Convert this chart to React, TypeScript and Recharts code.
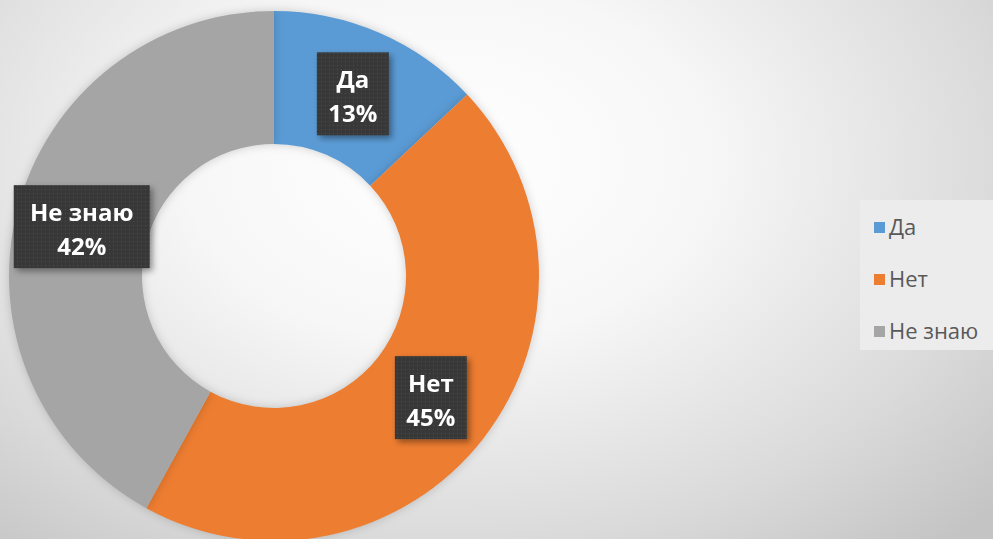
import { PieChart, Pie, Cell, Legend } from "recharts";

const categories = ["Да", "Нет", "Не знаю"];
const shares = [13, 45, 42];
const colors = ["#5b9bd5", "#ed7d31", "#a5a5a5"];

const data = categories.map((name, i) => ({ name, value: shares[i] }));

const RADIAN = Math.PI / 180;

const renderLabel = ({ cx, cy, midAngle, innerRadius, outerRadius, percent, name }: any) => {
  const r = (innerRadius + outerRadius) / 2;
  const x = cx + r * Math.cos(-midAngle * RADIAN);
  const y = cy + r * Math.sin(-midAngle * RADIAN);
  const pct = `${Math.round(percent * 100)}%`;
  const chars = Math.max(String(name).length, pct.length);
  const w = chars * 16 + 24;
  const h = 83;
  return (
    <g>
      <rect
        x={x - w / 2}
        y={y - h / 2}
        width={w}
        height={h}
        fill="url(#dots)"
        filter="url(#boxShadow)"
      />
      <text
        x={x}
        y={y - 6}
        textAnchor="middle"
        fill="#ffffff"
        fontFamily="'Open Sans', sans-serif"
        fontWeight={700}
        fontSize={24}
      >
        {name}
      </text>
      <text
        x={x}
        y={y + 28}
        textAnchor="middle"
        fill="#ffffff"
        fontFamily="'Open Sans', sans-serif"
        fontWeight={700}
        fontSize={24}
      >
        {pct}
      </text>
    </g>
  );
};

// keep the legend in the data order, not alphabetical
const LegendContent = ({ payload }: any) => {
  const items = [...(payload || [])].sort(
    (a: any, b: any) => categories.indexOf(a.value) - categories.indexOf(b.value)
  );
  return (
    <div
      style={{
        background: "#ececec",
        width: 140,
        height: 150,
        boxSizing: "border-box",
        paddingLeft: 14,
        fontFamily: "'Open Sans', sans-serif",
        fontSize: 22,
        color: "#595959",
        whiteSpace: "nowrap",
      }}
    >
      {items.map((entry: any) => (
        <div
          key={entry.value}
          style={{ display: "flex", alignItems: "center", height: 52 }}
        >
          <span
            style={{
              display: "inline-block",
              width: 11,
              height: 11,
              background: entry.color,
              marginRight: 4,
              marginTop: 3,
            }}
          />
          <span>{entry.value}</span>
        </div>
      ))}
    </div>
  );
};

export default function App() {
  return (
    <div
      style={{
        position: "fixed",
        left: 0,
        top: 0,
        width: 993,
        height: 539,
        overflow: "hidden",
        background:
          "radial-gradient(ellipse 75% 95% at 45% 30%, #ffffff 0%, #f7f7f7 35%, #dadada 75%, #c4c4c4 100%)",
      }}
    >
      <style>{".recharts-pie-sector{filter:drop-shadow(0 0 5px rgba(0,0,0,0.18));}"}</style>
      <PieChart width={993} height={539} margin={{ top: 0, right: 0, bottom: 0, left: 0 }}>
        <defs>
          <pattern id="dots" width="4" height="4" patternUnits="userSpaceOnUse">
            <rect width="4" height="4" fill="#383838" />
            <rect x="1" y="1" width="1" height="1" fill="#4e4e4e" />
          </pattern>
          <filter id="boxShadow" x="-20%" y="-20%" width="150%" height="150%">
            <feDropShadow dx="3" dy="3" stdDeviation="3" floodColor="#000" floodOpacity="0.4" />
          </filter>
        </defs>
        <Pie
          data={data}
          dataKey="value"
          nameKey="name"
          cx={274}
          cy={276}
          innerRadius={132}
          outerRadius={265}
          startAngle={90}
          endAngle={-270}
          stroke="none"
          label={renderLabel}
          labelLine={false}
          isAnimationActive={false}
        >
          {data.map((d, i) => (
            <Cell key={d.name} fill={colors[i]} />
          ))}
        </Pie>
        <Legend
          content={<LegendContent />}
          wrapperStyle={{ left: 860, top: 200, width: 140 }}
        />
      </PieChart>
    </div>
  );
}
